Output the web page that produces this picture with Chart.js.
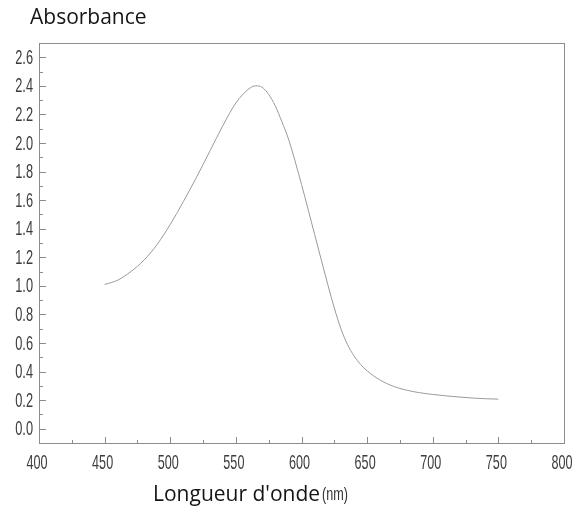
<!DOCTYPE html>
<html><head><meta charset="utf-8">
<script src="https://cdn.jsdelivr.net/npm/chart.js@4.4.0/dist/chart.umd.min.js"></script>
<style>html,body{margin:0;padding:0;background:#fff}#wrap{width:576px;height:508px;position:relative}</style>
</head><body><div id="wrap"><canvas id="c" width="576" height="508"></canvas></div>
<script>
const wavelengths = [450,460,470,480,490,500,510,520,530,540,550,560,565,570,575,580,585,590,600,610,620,625,630,635,640,645,650,660,670,680,690,700,710,720,730,740,750];
const absorbance  = [1.01,1.04,1.10,1.18,1.29,1.43,1.59,1.76,1.94,2.12,2.28,2.38,2.40,2.39,2.34,2.26,2.15,2.03,1.71,1.36,1.01,0.845,0.70,0.59,0.51,0.45,0.405,0.34,0.297,0.27,0.252,0.24,0.23,0.222,0.215,0.21,0.207];
const xTickValues = [400,450,500,550,600,650,700,750,800];
const xTickLabels = ['400','450','500','550','600','650','700','750','800'];
const yTickValues = [0,0.2,0.4,0.6,0.8,1.0,1.2,1.4,1.6,1.8,2.0,2.2,2.4,2.6];
const yTickLabels = ['0.0','0.2','0.4','0.6','0.8','1.0','1.2','1.4','1.6','1.8','2.0','2.2','2.4','2.6'];
const yAxisTitle = 'Absorbance';
const xAxisTitle = "Longueur d'onde";
const xAxisUnit = '(nm)';

const narrowFont = '"Liberation Sans", Arial, sans-serif';

function condensedText(ctx, text, x, y, sx, align, baseline) {
  ctx.save();
  ctx.translate(x, y);
  ctx.scale(sx, 1);
  ctx.textAlign = align;
  ctx.textBaseline = baseline;
  ctx.fillText(text, 0, 0);
  ctx.restore();
}

const frame = {
  id: 'frame',
  afterDraw(chart) {
    const {ctx, chartArea: a, scales} = chart;
    const xs = scales.x, ys = scales.y;
    ctx.save();
    ctx.strokeStyle = '#8c8c8c';
    ctx.lineWidth = 1;
    ctx.strokeRect(a.left + 0.5, a.top + 0.5, a.right - a.left, a.bottom - a.top);
    ctx.beginPath();
    for (let i = 0; i < yTickValues.length; i++) {
      const y = Math.round(ys.getPixelForValue(yTickValues[i])) + 0.5;
      ctx.moveTo(a.left, y); ctx.lineTo(a.left + 7, y);
      if (i < yTickValues.length - 1) {
        const ym = Math.round(ys.getPixelForValue((yTickValues[i] + yTickValues[i+1]) / 2)) + 0.5;
        ctx.moveTo(a.left, ym); ctx.lineTo(a.left + 4, ym);
      }
    }
    for (let i = 0; i < xTickValues.length; i++) {
      const x = Math.round(xs.getPixelForValue(xTickValues[i])) + 0.5;
      ctx.moveTo(x, a.bottom); ctx.lineTo(x, a.bottom - 6);
      if (i < xTickValues.length - 1) {
        const xm = Math.round(xs.getPixelForValue((xTickValues[i] + xTickValues[i+1]) / 2)) + 0.5;
        ctx.moveTo(xm, a.bottom); ctx.lineTo(xm, a.bottom - 3);
      }
    }
    ctx.stroke();

    ctx.fillStyle = '#3c3c3c';
    ctx.font = '20px ' + narrowFont;
    yTickValues.forEach((v, i) => {
      condensedText(ctx, yTickLabels[i], a.left - 6, ys.getPixelForValue(v) + 1, 0.64, 'right', 'middle');
    });
    ctx.font = '21px ' + narrowFont;
    xTickValues.forEach((v, i) => {
      condensedText(ctx, xTickLabels[i], xs.getPixelForValue(v) - 2, a.bottom + 20, 0.6, 'center', 'middle');
    });

    ctx.fillStyle = '#151515';
    ctx.textBaseline = 'alphabetic';
    ctx.textAlign = 'left';
    ctx.font = '21px "Open Sans"';
    ctx.fillText(yAxisTitle, 30, 24);
    const lx = 153;
    ctx.fillText(xAxisTitle, lx, 501);
    const w = ctx.measureText(xAxisTitle).width;
    ctx.font = '18px ' + narrowFont;
    ctx.fillStyle = '#333';
    condensedText(ctx, xAxisUnit, lx + w + 2, 500, 0.7, 'left', 'alphabetic');
    ctx.restore();
  }
};

new Chart(document.getElementById('c'), {
  type: 'line',
  data: {
    datasets: [{
      data: wavelengths.map((w, i) => ({x: w, y: absorbance[i]})),
      borderColor: '#9a9a9a',
      borderWidth: 1,
      pointRadius: 0,
      fill: false,
      cubicInterpolationMode: 'monotone'
    }]
  },
  options: {
    responsive: false,
    animation: false,
    devicePixelRatio: 1,
    layout: {padding: {top: 43, right: 12, left: 0, bottom: 0}},
    plugins: {legend: {display: false}, tooltip: {enabled: false}, title: {display: false}},
    scales: {
      x: {
        type: 'linear', min: 400, max: 800,
        afterBuildTicks: s => { s.ticks = xTickValues.map(v => ({value: v})); },
        afterFit: s => { s.height = 65; s.paddingRight = 0; s.paddingLeft = 0; },
        grid: {display: false, drawTicks: false},
        border: {display: false},
        ticks: {display: false}
      },
      y: {
        type: 'linear', min: -0.1, max: 2.7,
        afterBuildTicks: s => { s.ticks = yTickValues.map(v => ({value: v})); },
        afterFit: s => { s.width = 39; s.paddingTop = 0; s.paddingBottom = 0; },
        grid: {display: false, drawTicks: false},
        border: {display: false},
        ticks: {display: false}
      }
    }
  },
  plugins: [frame]
});
</script>
</body></html>
